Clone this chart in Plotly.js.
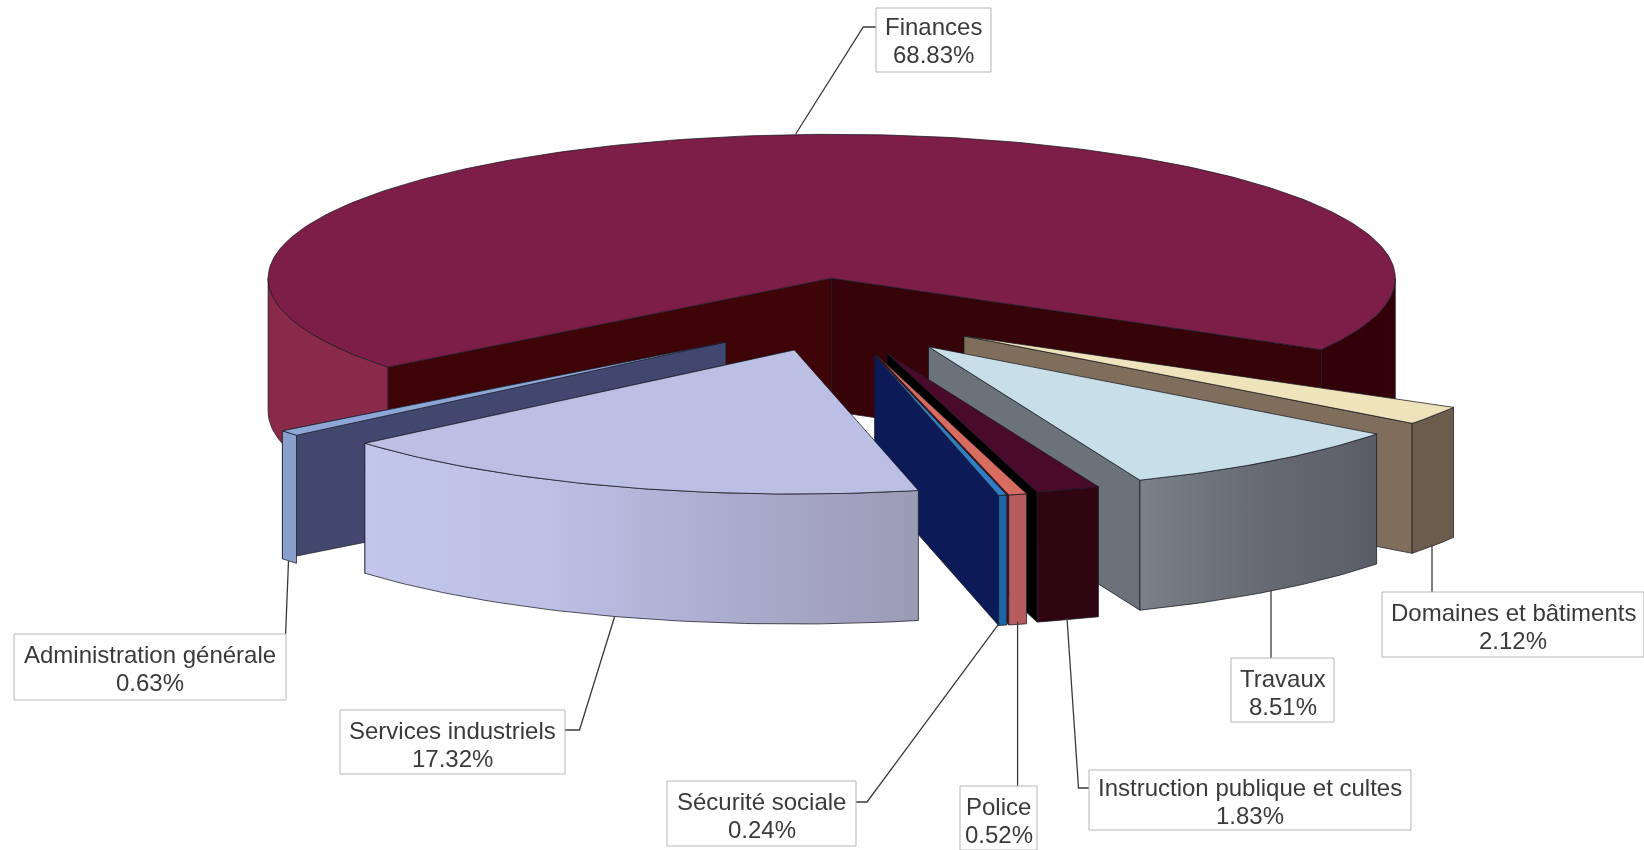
<!DOCTYPE html>
<html>
<head>
<meta charset="utf-8">
<script src="https://cdn.plot.ly/plotly-3.0.1.min.js"></script>
<style>html,body{margin:0;padding:0;background:#fff;overflow:hidden}#chart{width:1644px;height:850px;filter:blur(0.4px)}</style>
</head>
<body>
<div id="chart"></div>
<script>
// ---- data, clockwise from the top-right ----
const categories = ["Domaines et bâtiments","Travaux","Instruction publique et cultes","Police","Sécurité sociale","Services industriels","Administration générale","Finances"];
const shares = [2.12, 8.51, 1.83, 0.52, 0.24, 17.32, 0.63, 68.83];

// ---- 3D pie geometry ----
const startAngle = 119.7, radiusX = 563.6, radiusY = 144;
const tipX  = [964, 928.5, 887, 876.5, 874.6, 794.4, 726, 831.7];
const tipY  = [336, 346.7, 353.3, 355, 355, 350, 342, 278.3];
const depth = [130, 130, 130, 130, 130, 130, 128, 133];
const paintOrder = [7, 0, 1, 2, 3, 4, 6, 5];

// ---- face colours ----
const topColor  = ["#efe3bb","#c8dfe8","#4a0a2c","#d96c60","#2f7fc4","#babfe3","#8ea6d6","#7c1e48"];
const rimColor  = ["#6c5c4e",["#7a8189","#666b74","#595d67"],"#2e0510","#b65c5e","#1a66a8",["#c1c6ec","#bcc0e4","#aaacce","#9a9bb5"],"#8aa0cc",["#8a2a4a","#33000a"]];
const wallColor = ["#7f6e5c","#6c7279","#000000","#5a0a10","#0c1a58","#9c9cb8","#41476f","#3f0408"];

// ---- labels ----
const boxX0 = [1382,1231,1089,960,667,340,14,876];
const boxX1 = [1644,1334,1411,1037,856,565,286,991];
const boxY0 = [592,658,770,786,781,710,634,8];
const boxY1 = [657,722,830,850,846,774,700,72];
const textShift = [2,2,1,2,2,2,1,0];
const leaderX = [[1432,1432],[1271,1271],[1067,1078.5,1089],[1017.6,1017.6],[999.7,867,856],[614.5,579.5,565],[288.5,285.6],[795.7,863.3,876]];
const leaderY = [[545,592],[590,658],[618,788,788],[621.7,786],[622.7,802,802],[617,730,730],[561,634],[134,27,27]];

// ---- build ----
const cum = []; let acc = startAngle;
shares.forEach(s => { cum.push([acc, acc + s * 3.6]); acc += s * 3.6; });

function arc(i, a0, a1) {
  const n = Math.max(2, Math.ceil(Math.abs(a1 - a0))), xs = [], ys = [];
  for (let k = 0; k <= n; k++) {
    const a = (a0 + (a1 - a0) * k / n) * Math.PI / 180;
    xs.push(tipX[i] + radiusX * Math.sin(a));
    ys.push(tipY[i] - radiusY * Math.cos(a));
  }
  return [xs, ys];
}
function face(name, xs, ys, color) {
  const t = {x: xs, y: ys, name, mode: "lines", fill: "toself", hoverinfo: "skip", showlegend: false,
             line: {color: "rgba(25,25,35,0.75)", width: 1}};
  if (Array.isArray(color)) {
    t.fillgradient = {type: "horizontal",
      colorscale: color.map((c, j) => [j / (color.length - 1), c])};
  } else t.fillcolor = color;
  return t;
}
function wall(i, a, color) {
  const [ex, ey] = arc(i, a, a + 0.0001);
  return face(categories[i], [tipX[i], ex[0], ex[0], tipX[i], tipX[i]],
    [tipY[i], ey[0], ey[0] + depth[i], tipY[i] + depth[i], tipY[i]], color);
}
function rim(i, a0, a1, color) {
  const [xs, ys] = arc(i, a0, a1);
  const X = xs.concat(xs.slice().reverse()), Y = ys.concat(ys.slice().reverse().map(v => v + depth[i]));
  X.push(X[0]); Y.push(Y[0]);
  return face(categories[i], X, Y, color);
}
const traces = [];
paintOrder.forEach(i => {
  const [a0, a1] = cum[i];
  if (i === 7) {                         // large back slice: two visible rim parts
    traces.push(rim(i, a0, 270, rimColor[i][0]));
    traces.push(rim(i, 360 + 90, a1, rimColor[i][1]));
    traces.push(wall(i, a1, "#350308"));
    traces.push(wall(i, a0, wallColor[i]));
  } else {
    traces.push(wall(i, a1, wallColor[i]));
    traces.push(rim(i, a0, a1, rimColor[i]));
  }
  const [xs, ys] = arc(i, a0, a1);
  traces.push(face(categories[i], [tipX[i], ...xs, tipX[i]], [tipY[i], ...ys, tipY[i]], topColor[i]));
});
categories.forEach((c, i) => traces.push({x: leaderX[i], y: leaderY[i], mode: "lines", hoverinfo: "skip", showlegend: false,
  name: c + " leader", line: {color: "#3a3a3a", width: 1.3}}));

const shapes = categories.map((c, i) => ({
  type: "rect", xref: "x", yref: "y", x0: boxX0[i], x1: boxX1[i], y0: boxY0[i], y1: boxY1[i],
  fillcolor: "#ffffff", line: {color: "#b5b5b5", width: 1}
}));
const labelFont = {family: "Liberation Sans, Arial, sans-serif", size: 24, color: "#3a3a3a"};
const annotations = [];
categories.forEach((c, i) => {
  const cx = (boxX0[i] + boxX1[i]) / 2, cy = (boxY0[i] + boxY1[i]) / 2 + textShift[i];
  [[c, -14], [shares[i].toFixed(2) + "%", 14]].forEach(([text, dy]) => annotations.push({
    xref: "x", yref: "y", x: cx, y: cy + dy, xanchor: "center", yanchor: "middle",
    showarrow: false, text, font: labelFont
  }));
});

const hidden = {visible: false, fixedrange: true, showgrid: false, zeroline: false};
Plotly.newPlot("chart", traces, {
  width: 1644, height: 850, margin: {l: 0, r: 0, t: 0, b: 0},
  paper_bgcolor: "#ffffff", plot_bgcolor: "#ffffff", showlegend: false,
  xaxis: Object.assign({range: [0, 1644]}, hidden),
  yaxis: Object.assign({range: [850, 0]}, hidden),
  shapes, annotations
}, {displayModeBar: false, staticPlot: true});
</script>
</body>
</html>
